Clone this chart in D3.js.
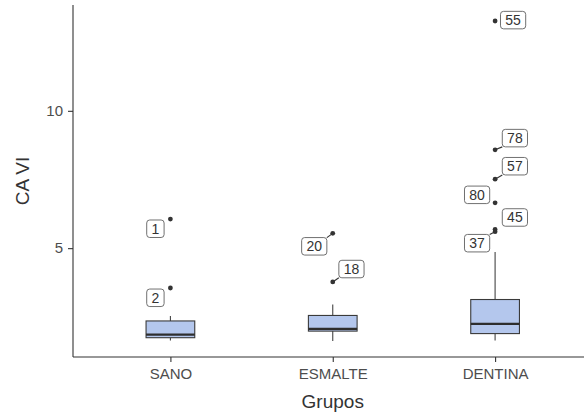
<!DOCTYPE html>
<html>
<head>
<meta charset="utf-8">
<script src="https://cdn.jsdelivr.net/npm/d3@7"></script>
<style>
  html, body { margin: 0; padding: 0; background: #fff; }
  svg { display: block; }
</style>
</head>
<body>
<svg id="chart" width="584" height="419"></svg>
<script>
// Groups on the x axis
const categories = ["SANO", "ESMALTE", "DENTINA"];

// Box statistics per group (CA VI)
const whiskerLow  = [1.64, 1.62, 1.64];
const q1          = [1.74, 1.98, 1.89];
const median      = [1.85, 2.06, 2.24];
const q3          = [2.35, 2.55, 3.13];
const whiskerHigh = [2.53, 2.95, 4.86];

// Outlying observations: group, value, case id
const outlierGroup = ["SANO", "SANO", "ESMALTE", "ESMALTE", "DENTINA", "DENTINA", "DENTINA", "DENTINA", "DENTINA", "DENTINA"];
const outlierValue = [6.06, 3.55, 5.54, 3.77, 13.27, 8.58, 7.51, 6.65, 5.68, 5.60];
const outlierId    = ["1", "2", "20", "18", "55", "78", "57", "80", "45", "37"];

// Y tick values
const yTicks = [5, 10];

// Repelled label placement (offset of each label centre from its point, px)
// and whether a connector segment is drawn to it
const labelDx   = [-15, -15, -18.5, 18.7, 18, 19.8, 19.8, -18, 19.8, -18];
const labelDy   = [9.7, 9.8, 13, -12.9, -0.9, -11.7, -13, -8, -12, 11.5];
const labelLink = [false, false, true, true, false, true, true, false, false, true];

const svg = d3.select("#chart");
const plotLeft = 73, plotTop = 5, plotBottom = 357, plotRight = 592.5;
const font = "'Liberation Sans', Arial, Helvetica, sans-serif";

// y domain: data range expanded by 5% on each side
const allVals = whiskerLow.concat(whiskerHigh, outlierValue);
const lo = d3.min(allVals), hi = d3.max(allVals), pad = (hi - lo) * 0.05;
const y = d3.scaleLinear().domain([lo - pad, hi + pad]).range([plotBottom, plotTop]);
const x = d3.scalePoint().domain(categories).range([plotLeft, plotRight]).padding(0.6);
const boxW = x.step() * 0.3;

const boxes = categories.map((c, i) => ({
  c, lo: whiskerLow[i], q1: q1[i], med: median[i], q3: q3[i], hi: whiskerHigh[i]
}));

const g = svg.append("g");

// whiskers
g.selectAll(".wh-up").data(boxes).join("line")
  .attr("x1", d => x(d.c)).attr("x2", d => x(d.c))
  .attr("y1", d => y(d.q3)).attr("y2", d => y(d.hi))
  .attr("stroke", "#444").attr("stroke-width", 1.1);
g.selectAll(".wh-dn").data(boxes).join("line")
  .attr("x1", d => x(d.c)).attr("x2", d => x(d.c))
  .attr("y1", d => y(d.q1)).attr("y2", d => y(d.lo))
  .attr("stroke", "#444").attr("stroke-width", 1.1);

// boxes
g.selectAll(".box").data(boxes).join("rect")
  .attr("x", d => x(d.c) - boxW / 2).attr("width", boxW)
  .attr("y", d => y(d.q3)).attr("height", d => y(d.q1) - y(d.q3))
  .attr("fill", "#b4c7ed").attr("stroke", "#3a3a3a").attr("stroke-width", 1.1);

// medians
g.selectAll(".med").data(boxes).join("line")
  .attr("x1", d => x(d.c) - boxW / 2).attr("x2", d => x(d.c) + boxW / 2)
  .attr("y1", d => y(d.med)).attr("y2", d => y(d.med))
  .attr("stroke", "#2e2e2e").attr("stroke-width", 2.2);

// outliers and their labels
const pts = outlierValue.map((v, i) => {
  const px = x(outlierGroup[i]), py = y(v);
  const txt = outlierId[i];
  const w = txt.length * 7.8 + 9.6, h = 17.5;
  return { px, py, txt, cx: px + labelDx[i], cy: py + labelDy[i], w, h, link: labelLink[i] };
});

// connector segments from point to the nearest spot on the label box
pts.filter(p => p.link).forEach(p => {
  const ex = Math.max(p.cx - p.w / 2, Math.min(p.px, p.cx + p.w / 2));
  const ey = Math.max(p.cy - p.h / 2, Math.min(p.py, p.cy + p.h / 2));
  g.append("line").attr("x1", p.px).attr("y1", p.py).attr("x2", ex).attr("y2", ey)
    .attr("stroke", "#333").attr("stroke-width", 1.1);
});

g.selectAll(".pt").data(pts).join("circle")
  .attr("cx", d => d.px).attr("cy", d => d.py).attr("r", 2.4)
  .attr("fill", "#333");

const lab = g.selectAll(".lab").data(pts).join("g");
lab.append("rect")
  .attr("x", d => d.cx - d.w / 2).attr("y", d => d.cy - d.h / 2)
  .attr("width", d => d.w).attr("height", d => d.h)
  .attr("rx", 3).attr("ry", 3)
  .attr("fill", "#fff").attr("stroke", "#606060").attr("stroke-width", 0.9);
lab.append("text")
  .attr("x", d => d.cx).attr("y", d => d.cy + 5)
  .attr("text-anchor", "middle")
  .attr("font-family", font).attr("font-size", 14).attr("fill", "#333")
  .text(d => d.txt);

// axes
const axisColor = "#333", tickText = "#4d4d4d";
const xAxis = svg.append("g").attr("transform", `translate(0,${plotBottom})`)
  .call(d3.axisBottom(x).tickSize(5).tickPadding(6).tickSizeOuter(0));
const yAxis = svg.append("g").attr("transform", `translate(${plotLeft},0)`)
  .call(d3.axisLeft(y).tickValues(yTicks).tickSize(5).tickPadding(5).tickSizeOuter(0));
[xAxis, yAxis].forEach(a => {
  a.select(".domain").attr("stroke", axisColor).attr("stroke-width", 1.1);
  a.selectAll(".tick line").attr("stroke", axisColor).attr("stroke-width", 1.1);
  a.selectAll(".tick text").attr("fill", tickText)
    .attr("font-family", font).attr("font-size", 15);
});
yAxis.select(".domain").attr("d", `M0,${plotBottom}V${plotTop}`);
xAxis.select(".domain").attr("d", `M${plotLeft},0H${plotRight}`);

// axis titles
svg.append("text").attr("x", x("ESMALTE")).attr("y", 408)
  .attr("text-anchor", "middle").attr("font-family", font).attr("font-size", 19)
  .attr("fill", "#333").text("Grupos");
svg.append("text")
  .attr("transform", `translate(29,${(plotTop + plotBottom) / 2}) rotate(-90)`)
  .attr("text-anchor", "middle").attr("font-family", font).attr("font-size", 19)
  .attr("fill", "#333").text("CA VI");
</script>
</body>
</html>
